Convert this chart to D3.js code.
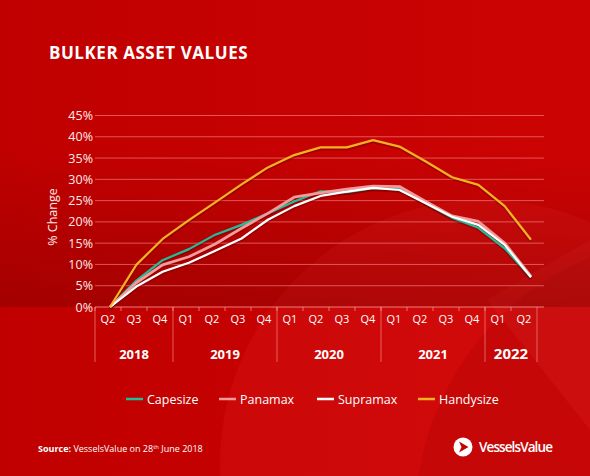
<!DOCTYPE html>
<html>
<head>
<meta charset="utf-8">
<script src="https://cdn.jsdelivr.net/npm/d3@7"></script>
<style>
  html, body { margin: 0; padding: 0; background: #c50000; }
  svg { display: block; font-family: "Open Sans", "DejaVu Sans", sans-serif; }
</style>
</head>
<body>
<div id="chart"></div>
<script>
// Quarter / year labels
const quarters = ["Q2","Q3","Q4","Q1","Q2","Q3","Q4","Q1","Q2","Q3","Q4","Q1","Q2","Q3","Q4","Q1","Q2"];
const years = ["2018", "2019", "2020", "2021", "2022"];
const quartersPerYear = [3, 4, 4, 4, 2];
const yTicks = [0, 5, 10, 15, 20, 25, 30, 35, 40, 45];

// % change series
const capesize  = [0, 6.2, 11.0, 13.6, 17.0, 19.3, 22.0, 24.8, 27.2, 27.0, 27.9, 27.7, 24.4, 21.0, 18.6, 13.8, 7.0];
const panamax   = [0, 5.7, 9.9, 11.8, 14.8, 18.5, 22.0, 25.8, 26.8, 27.7, 28.4, 28.3, 24.8, 21.4, 20.1, 15.0, 7.2];
const supramax  = [0, 4.8, 8.3, 10.4, 13.2, 16.1, 20.5, 23.7, 26.1, 27.1, 28.0, 27.5, 24.4, 21.2, 19.3, 14.6, 7.0];
const handysize = [0, 9.9, 16.0, 20.4, 24.6, 28.8, 32.8, 35.7, 37.5, 37.5, 39.2, 37.7, 34.2, 30.5, 28.7, 23.7, 15.8];

const seriesNames = ["Capesize", "Panamax", "Supramax", "Handysize"];
const seriesValues = [capesize, panamax, supramax, handysize];
const seriesColors = ["#1fbf9c", "#f59a9a", "#ffffff", "#f5b324"];

const width = 590, height = 476;
const idx = d3.range(quarters.length);

const svg = d3.select("#chart").append("svg")
    .attr("width", width)
    .attr("height", height);

const defs = svg.append("defs");

// background
const bgGrad = defs.append("linearGradient").attr("id", "bg").attr("x1", 0).attr("x2", 1).attr("y1", 0).attr("y2", 0);
bgGrad.append("stop").attr("offset", "0%").attr("stop-color", "#c00000");
bgGrad.append("stop").attr("offset", "100%").attr("stop-color", "#cc0303");

const band = defs.append("linearGradient").attr("id", "band").attr("x1", 0).attr("x2", 0).attr("y1", 0).attr("y2", 1);
band.append("stop").attr("offset", "0%").attr("stop-color", "#5a0000").attr("stop-opacity", 0);
band.append("stop").attr("offset", "100%").attr("stop-color", "#5a0000").attr("stop-opacity", 0.28);

svg.append("rect").attr("width", width).attr("height", height).attr("fill", "url(#bg)");

// soft shapes in the lower right
svg.append("circle").attr("cx", 484).attr("cy", 464).attr("r", 264)
    .attr("fill", "#ff4040").attr("opacity", 0.13);
svg.append("circle").attr("cx", 700).attr("cy", 520).attr("r", 285)
    .attr("fill", "#a00000").attr("opacity", 0.22);
svg.append("path").attr("d", "M487,300 L590,240 L590,430 Z")
    .attr("fill", "#ff5050").attr("opacity", 0.1);

// scales
const yScale = d3.scaleLinear().domain([0, 45]).range([307, 115.5]);
const xBand = d3.scaleBand().domain(idx).range([95, 537]);
const xLine = d3.scalePoint().domain(idx).range([110, 531]);

// darker band behind the plot
svg.append("rect").attr("x", 0).attr("y", 150).attr("width", width).attr("height", yScale(0) - 150)
    .attr("fill", "url(#band)");

// gridlines
svg.append("g").selectAll("line").data(yTicks).enter().append("line")
    .attr("x1", 95).attr("x2", 544)
    .attr("y1", d => yScale(d)).attr("y2", d => yScale(d))
    .attr("stroke", "#ff9a9a").attr("stroke-opacity", d => d === 0 ? 0.8 : 0.55)
    .attr("stroke-width", 1);

svg.append("g").selectAll("text").data(yTicks).enter().append("text")
    .attr("x", 93).attr("y", d => yScale(d) + 4.5)
    .attr("text-anchor", "end")
    .attr("fill", "#ffe9e9")
    .style("font-size", "12.5px")
    .text(d => d + "%");

svg.append("text")
    .attr("transform", "translate(57,217) rotate(-90)")
    .attr("text-anchor", "middle")
    .attr("fill", "#ffe9e9")
    .style("font-size", "12.5px")
    .text("% Change");

// quarter ticks + labels
svg.append("g").selectAll("line").data(idx).enter().append("line")
    .attr("x1", d => xBand(d)).attr("x2", d => xBand(d))
    .attr("y1", 307).attr("y2", 311)
    .attr("stroke", "#ff9a9a").attr("stroke-opacity", 0.7);

svg.append("g").selectAll("text").data(quarters).enter().append("text")
    .attr("x", (d, i) => xBand(i) + xBand.bandwidth() / 2)
    .attr("y", 323)
    .attr("text-anchor", "middle")
    .attr("fill", "#ffffff")
    .style("font-size", "11px")
    .text(d => d);

// year separators + labels
const yearStart = d3.cumsum([0].concat(quartersPerYear));
svg.append("g").selectAll("line").data(yearStart).enter().append("line")
    .attr("x1", d => d < quarters.length ? xBand(d) : xBand.range()[1])
    .attr("x2", d => d < quarters.length ? xBand(d) : xBand.range()[1])
    .attr("y1", 307).attr("y2", 362)
    .attr("stroke", "#ff9a9a").attr("stroke-opacity", 0.6);

svg.append("g").selectAll("text").data(years).enter().append("text")
    .attr("x", (d, i) => {
        const a = xBand(yearStart[i]);
        const b = yearStart[i + 1] < quarters.length ? xBand(yearStart[i + 1]) : xBand.range()[1];
        return (a + b) / 2;
    })
    .attr("y", 359)
    .attr("text-anchor", "middle")
    .attr("fill", "#ffffff")
    .style("font-size", (d, i) => i === years.length - 1 ? "15px" : "13px")
    .style("font-weight", 700)
    .text(d => d);

// lines
const line = d3.line()
    .x((d, i) => xLine(i))
    .y(d => yScale(d));

const shadows = svg.append("g");
const lines = svg.append("g");
[0, 1, 2, 3].forEach(k => {
    shadows.append("path")
        .attr("d", line(seriesValues[k]))
        .attr("transform", "translate(0,1.5)")
        .attr("fill", "none")
        .attr("stroke", "#600000")
        .attr("stroke-opacity", 0.35)
        .attr("stroke-width", 3);
    lines.append("path")
        .attr("d", line(seriesValues[k]))
        .attr("fill", "none")
        .attr("stroke", seriesColors[k])
        .attr("stroke-width", k === 1 ? 2.8 : 2.2)
        .attr("stroke-linejoin", "round");
});

// title
svg.append("text")
    .attr("x", 49).attr("y", 59)
    .attr("fill", "#ffffff")
    .style("font-size", "17px")
    .style("font-weight", 700)
    .style("letter-spacing", "0.55px")
    .text("BULKER ASSET VALUES");

// legend
const legendX = [126, 219, 317, 418];
const legend = svg.append("g").selectAll("g").data(seriesNames).enter().append("g")
    .attr("transform", (d, i) => `translate(${legendX[i]},399)`);
legend.append("line")
    .attr("x1", 0).attr("x2", 17)
    .attr("stroke", (d, i) => seriesColors[i])
    .attr("stroke-width", 2.5);
legend.append("text")
    .attr("x", 21).attr("y", 4.5)
    .attr("fill", "#ffffff")
    .style("font-size", "12.5px")
    .text(d => d);

// source
const src = svg.append("text")
    .attr("x", 38).attr("y", 452)
    .attr("fill", "#ffffff")
    .style("font-size", "9px");
src.append("tspan").style("font-weight", 700).text("Source: ");
src.append("tspan").text("VesselsValue on 28");
src.append("tspan").attr("dy", -3).style("font-size", "6px").text("th");
src.append("tspan").attr("dy", 3).text(" June 2018");

// logo
const logo = svg.append("g").attr("transform", "translate(463,447)");
logo.append("circle").attr("r", 9.5).attr("fill", "#ffffff");
logo.append("path").attr("d", "M-4,-5.5 L5.5,0 L-4,5.5 L-1.5,0 Z").attr("fill", "#c80000");
svg.append("text")
    .attr("x", 479).attr("y", 452)
    .attr("fill", "#ffffff")
    .style("font-size", "13.5px")
    .style("font-weight", 600)
    .style("letter-spacing", "-0.9px")
    .text("VesselsValue");
</script>
</body>
</html>
